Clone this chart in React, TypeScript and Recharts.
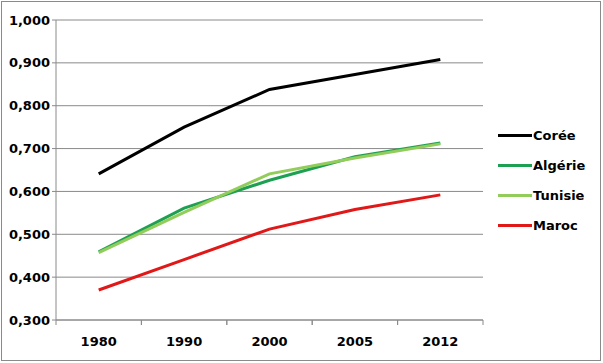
import { LineChart, Line, XAxis, YAxis, CartesianGrid } from 'recharts';

const years = ['1980', '1990', '2000', '2005', '2012'];
const coree = [0.641, 0.75, 0.838, 0.873, 0.908];
const algerie = [0.459, 0.561, 0.626, 0.681, 0.713];
const tunisie = [0.457, 0.551, 0.641, 0.678, 0.711];
const maroc = [0.37, 0.441, 0.512, 0.558, 0.592];
const yTicks = [0.3, 0.4, 0.5, 0.6, 0.7, 0.8, 0.9, 1.0];

const series = [
  { key: 'Corée', color: '#000000', values: coree },
  { key: 'Algérie', color: '#1ea052', values: algerie },
  { key: 'Tunisie', color: '#92cc5a', values: tunisie },
  { key: 'Maroc', color: '#e01818', values: maroc },
];

const data = years.map((year, i) => {
  const row: Record<string, string | number> = { year };
  series.forEach((s) => {
    row[s.key] = s.values[i];
  });
  return row;
});

const font = '"DejaVu Sans", Verdana, sans-serif';
const gridColor = '#8a8a8a';
const halfBand = 42.7;
const tickStyle = { fontSize: 13, fontWeight: 'bold', fill: '#000', fontFamily: font };

// category label plus Excel-style tick marks between categories
function YearTick(props: any) {
  const { x, y, payload } = props;
  const axisY = y - 14;
  return (
    <g>
      <line x1={x - halfBand} x2={x - halfBand} y1={axisY} y2={axisY + 5} stroke={gridColor} />
      <line x1={x + halfBand} x2={x + halfBand} y1={axisY} y2={axisY + 5} stroke={gridColor} />
      <text x={x} y={y} dy={12} textAnchor="middle" {...tickStyle}>
        {payload.value}
      </text>
    </g>
  );
}

function LegendBox() {
  return (
    <div
      style={{
        position: 'absolute',
        left: 498,
        top: 120,
        fontFamily: font,
        fontSize: 13,
        fontWeight: 'bold',
        color: '#000',
      }}
    >
      {series.map((s) => (
        <div key={s.key} style={{ display: 'flex', alignItems: 'center', height: 30 }}>
          <div style={{ width: 34, height: 3, background: s.color }} />
          <span style={{ marginLeft: 1 }}>{s.key}</span>
        </div>
      ))}
    </div>
  );
}

export default function App() {
  return (
    <div style={{ position: 'absolute', left: 0, top: 0, width: 603, height: 363, background: '#fff' }}>
      <div
        style={{
          position: 'absolute',
          left: 1,
          top: 1,
          width: 598,
          height: 358,
          border: '1px solid ' + gridColor,
        }}
      />
      <LineChart width={603} height={363} data={data} margin={{ top: 20, right: 120, left: 2, bottom: 13 }}>
        <CartesianGrid vertical={false} stroke={gridColor} />
        <XAxis
          dataKey="year"
          height={30}
          stroke={gridColor}
          padding={{ left: halfBand, right: halfBand }}
          tickLine={false}
          tickSize={5}
          tickMargin={9}
          tick={<YearTick />}
        />
        <YAxis
          width={54}
          domain={[0.3, 1.0]}
          ticks={yTicks}
          stroke={gridColor}
          tickSize={4}
          tickMargin={2}
          tick={tickStyle}
          tickFormatter={(v: number) => v.toFixed(3).replace('.', ',')}
        />
        {series.map((s) => (
          <Line
            key={s.key}
            type="linear"
            dataKey={s.key}
            stroke={s.color}
            strokeWidth={3}
            dot={false}
            isAnimationActive={false}
          />
        ))}
      </LineChart>
      <LegendBox />
    </div>
  );
}
